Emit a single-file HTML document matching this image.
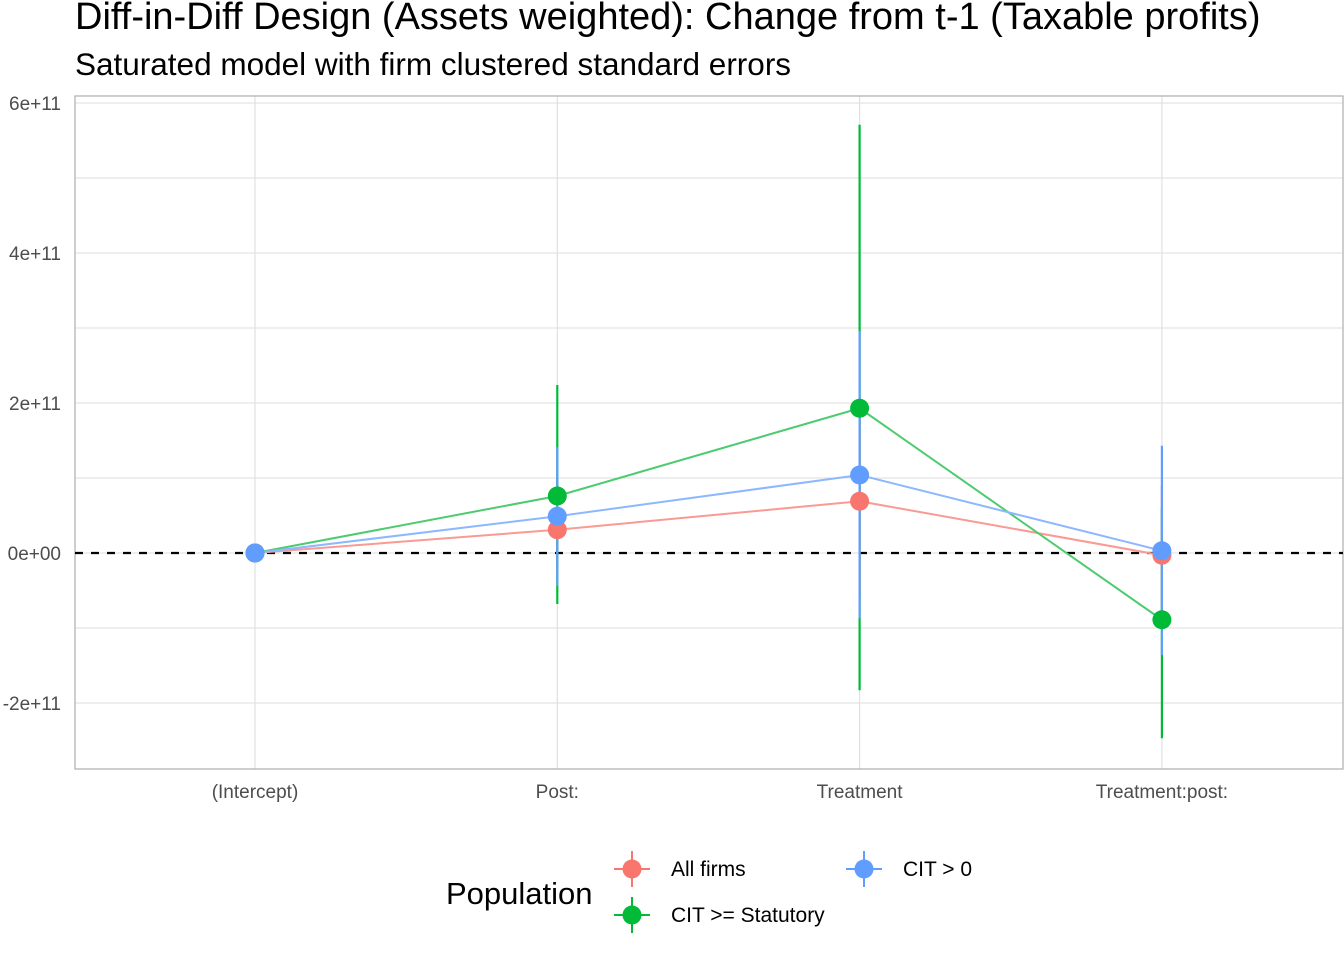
<!DOCTYPE html>
<html><head><meta charset="utf-8"><style>
body{margin:0;background:#fff;}
svg text{font-family:"Liberation Sans",Arial,sans-serif;}
</style></head><body>
<svg id="chart" width="1344" height="960" xmlns="http://www.w3.org/2000/svg">
<text x="75" y="29" font-size="38" fill="#000">Diff-in-Diff Design (Assets weighted): Change from t-1 (Taxable profits)</text>
<text x="75" y="75" font-size="31.5" fill="#000">Saturated model with firm clustered standard errors</text>
<g id="grid"></g>
<g id="marks"></g>
<g>
<text x="446" y="904" font-size="31" fill="#000">Population</text>
<g>
<line x1="632" y1="851" x2="632" y2="887" stroke="#F8766D" stroke-width="2"/><line x1="614" y1="869" x2="650" y2="869" stroke="#F8766D" stroke-width="2"/><circle cx="632" cy="869" r="9.5" fill="#F8766D"/>
<text x="671" y="876" font-size="21">All firms</text></g>
<g>
<line x1="864" y1="851" x2="864" y2="887" stroke="#619CFF" stroke-width="2"/><line x1="846" y1="869" x2="882" y2="869" stroke="#619CFF" stroke-width="2"/><circle cx="864" cy="869" r="9.5" fill="#619CFF"/>
<text x="903" y="876" font-size="21">CIT &gt; 0</text></g>
<g>
<line x1="632" y1="897" x2="632" y2="933" stroke="#00BA38" stroke-width="2"/><line x1="614" y1="915" x2="650" y2="915" stroke="#00BA38" stroke-width="2"/><circle cx="632" cy="915" r="9.5" fill="#00BA38"/>
<text x="671" y="922" font-size="21">CIT &gt;= Statutory</text></g>
</g>
</svg>
<script>
const categories=["(Intercept)","Post:","Treatment","Treatment:post:"];
const yTicks=[-2e11,0,2e11,4e11,6e11];
const yTickLabels=["-2e+11","0e+00","2e+11","4e+11","6e+11"];
const seriesNames=["All firms","CIT >= Statutory","CIT > 0"];
const allFirmsEst=[0,0.31e11,0.69e11,-0.03e11];
const allFirmsLo=[-0.02e11,-0.2e11,-0.6e11,-0.9e11];
const allFirmsHi=[0.02e11,1.0e11,2.0e11,0.9e11];
const citStatEst=[0,0.76e11,1.93e11,-0.89e11];
const citStatLo=[-0.02e11,-0.68e11,-1.83e11,-2.47e11];
const citStatHi=[0.02e11,2.24e11,5.71e11,0.6e11];
const citPosEst=[0,0.49e11,1.04e11,0.03e11];
const citPosLo=[-0.02e11,-0.44e11,-0.87e11,-1.36e11];
const citPosHi=[0.02e11,1.41e11,2.96e11,1.43e11];
const colors=["#F8766D","#00BA38","#619CFF"];
const lineColors=["#F99A93","#4DCB6F","#8DB7FF"];

const L=75,R=1343,T=96,B=769;
const x=i=>255+i*302.3;
const y=v=>553-v/2e11*150;
const NS="http://www.w3.org/2000/svg";
function mk(tag,attrs,parent){const e=document.createElementNS(NS,tag);for(const k in attrs)e.setAttribute(k,attrs[k]);parent.appendChild(e);return e;}
const grid=document.getElementById('grid'),marks=document.getElementById('marks');
for(let v=-3e11;v<=6e11;v+=1e11){const yy=y(v);if(yy<T||yy>B)continue;
 const g=mk('line',{x1:L,x2:R,y1:yy,y2:yy,stroke:'#dedede','stroke-width':1.1},grid);
 
 }
categories.forEach((c,i)=>{const g=mk('line',{x1:x(i),x2:x(i),y1:T,y2:B,stroke:'#dedede','stroke-width':1.1},grid);
 
 
 const t=mk('text',{x:x(i),y:798,'font-size':19,fill:'#4d4d4d','text-anchor':'middle'},grid);t.textContent=c;
 
 });
yTicks.forEach((v,i)=>{const t=mk('text',{x:61,y:y(v)+7,'font-size':19,fill:'#4d4d4d','text-anchor':'end'},grid);t.textContent=yTickLabels[i];
 
 });
const frame=mk('rect',{x:L,y:T,width:R-L,height:B-T,fill:'none',stroke:'#b3b3b3','stroke-width':1.3},grid);


const zl=mk('line',{x1:L,x2:R,y1:y(0),y2:y(0),stroke:'#000','stroke-width':2.2,'stroke-dasharray':'8,8'},marks);


const est=[allFirmsEst,citStatEst,citPosEst],lo=[allFirmsLo,citStatLo,citPosLo],hi=[allFirmsHi,citStatHi,citPosHi];
[0,1,2].forEach(s=>{const p=mk('polyline',{points:est[s].map((v,i)=>x(i)+','+y(v)).join(' '),fill:'none',stroke:lineColors[s],'stroke-width':2},marks);
 
 });
[0,1,2].forEach(s=>{categories.forEach((c,i)=>{const e=mk('line',{x1:x(i),x2:x(i),y1:y(hi[s][i]),y2:y(lo[s][i]),stroke:colors[s],'stroke-width':2.2},marks);
 
 });});
[0,1,2].forEach(s=>{categories.forEach((c,i)=>{const p=mk('circle',{cx:x(i),cy:y(est[s][i]),r:9.5,fill:colors[s]},marks);
 
 });});
</script>
</body></html>
